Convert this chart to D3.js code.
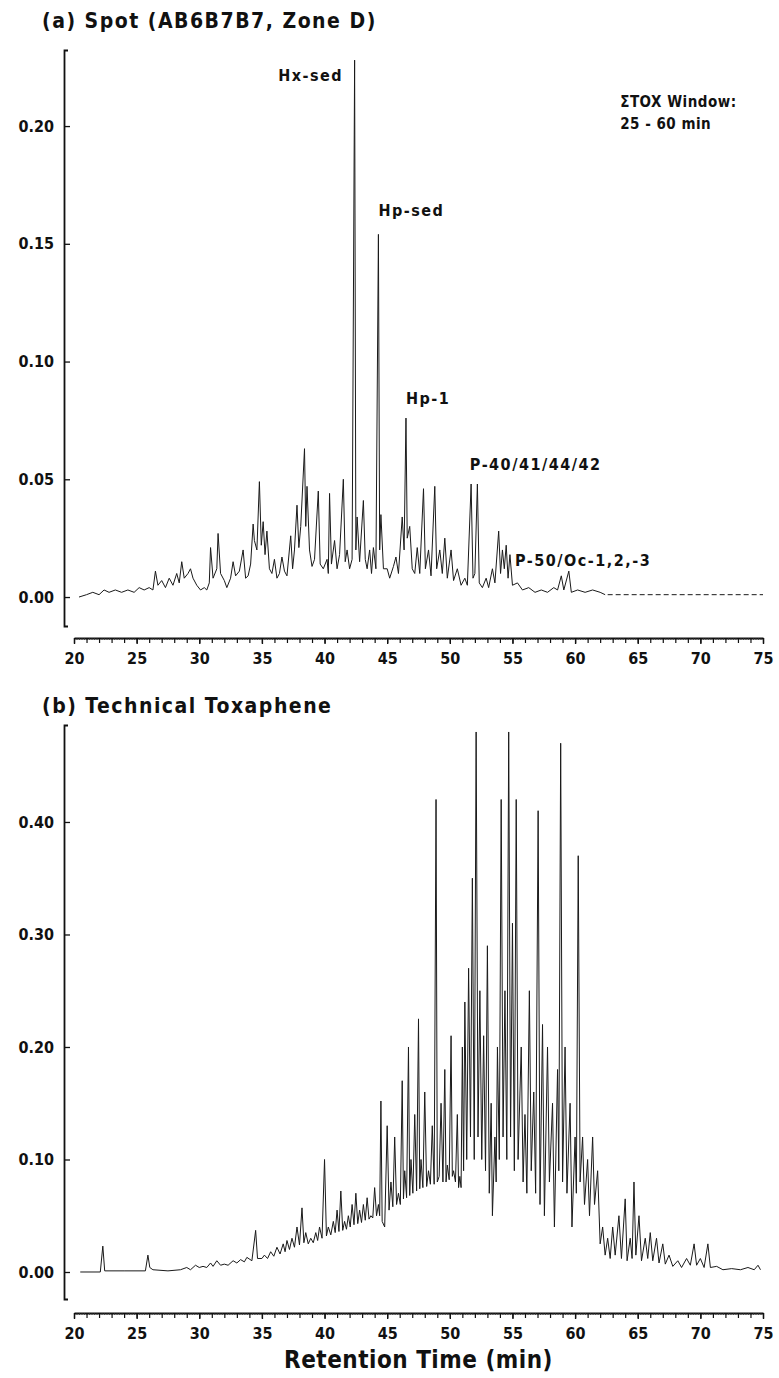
<html>
<head>
<script src="https://cdn.jsdelivr.net/npm/d3@7/dist/d3.min.js"></script>
<style>
body { margin: 0; background: #fff; }
text { font-family: 'DejaVu Sans Condensed', 'DejaVu Sans', sans-serif; font-stretch: condensed; font-weight: bold; fill: #111; }
.tick text { font-size: 16px; }
.trace { fill: none; stroke: #1a1a1a; stroke-width: 1; stroke-linejoin: round; }
</style>
</head>
<body>
<svg id="chart" width="779" height="1378"></svg>
<script>
// panel (a) : spot sample AB6B7B7, zone D  -- [retention time, signal], valleys and peaks
var traceA = [
  [20.4,0.000],[21.0,0.001],[21.5,0.002],[22.0,0.001],[22.4,0.003],[22.8,0.002],[23.3,0.003],[23.8,0.002],[24.3,0.003],[24.8,0.002],
  [25.2,0.004],[25.6,0.003],[26.0,0.004],[26.3,0.003],[26.5,0.011],[26.7,0.005],[27.0,0.007],[27.3,0.004],[27.6,0.008],[27.9,0.005],
  [28.2,0.010],[28.4,0.006],[28.6,0.015],[28.8,0.008],[29.1,0.010],[29.3,0.012],[29.5,0.008],[29.8,0.005],[30.1,0.003],[30.4,0.004],
  [30.6,0.003],[30.8,0.006],[30.9,0.021],[31.1,0.008],[31.4,0.012],[31.5,0.027],[31.7,0.010],[32.0,0.007],[32.2,0.004],[32.5,0.008],
  [32.7,0.015],[32.9,0.009],[33.2,0.011],[33.5,0.020],[33.7,0.008],[33.9,0.009],[34.1,0.014],[34.3,0.031],[34.4,0.024],[34.6,0.020],
  [34.8,0.049],[34.95,0.022],[35.1,0.032],[35.25,0.018],[35.4,0.028],[35.6,0.012],[35.8,0.010],[36.0,0.016],[36.2,0.008],[36.4,0.010],
  [36.6,0.017],[36.8,0.011],[37.0,0.009],[37.3,0.026],[37.45,0.012],[37.6,0.020],[37.8,0.039],[37.95,0.021],[38.1,0.030],[38.4,0.063],
  [38.5,0.030],[38.6,0.047],[38.8,0.020],[39.0,0.013],[39.2,0.016],[39.5,0.045],[39.65,0.014],[39.9,0.012],[40.2,0.016],[40.3,0.010],
  [40.4,0.044],[40.55,0.014],[40.8,0.024],[41.0,0.012],[41.2,0.018],[41.5,0.050],[41.65,0.015],[41.8,0.020],[42.0,0.012],[42.2,0.016],
  [42.4,0.228],[42.5,0.020],[42.6,0.034],[42.8,0.015],[43.1,0.041],[43.25,0.016],[43.4,0.012],[43.6,0.020],[43.75,0.010],[43.9,0.021],
  [44.1,0.012],[44.3,0.154],[44.4,0.020],[44.5,0.035],[44.7,0.012],[45.0,0.012],[45.2,0.008],[45.5,0.013],[45.7,0.017],[45.9,0.010],
  [46.2,0.034],[46.35,0.020],[46.5,0.076],[46.6,0.025],[46.8,0.030],[47.0,0.012],[47.2,0.010],[47.4,0.021],[47.6,0.010],[47.9,0.046],
  [48.05,0.012],[48.3,0.020],[48.5,0.009],[48.8,0.047],[48.95,0.012],[49.2,0.020],[49.4,0.010],[49.6,0.025],[49.8,0.008],[50.1,0.020],
  [50.3,0.007],[50.6,0.012],[50.9,0.005],[51.2,0.008],[51.4,0.005],[51.7,0.048],[51.85,0.008],[52.0,0.010],[52.2,0.048],[52.35,0.006],
  [52.6,0.004],[52.9,0.008],[53.1,0.004],[53.4,0.012],[53.6,0.006],[53.9,0.028],[54.05,0.010],[54.2,0.020],[54.35,0.012],[54.5,0.022],
  [54.65,0.008],[54.8,0.018],[55.0,0.005],[55.4,0.006],[55.8,0.003],[56.3,0.004],[56.8,0.002],[57.3,0.003],[57.8,0.002],[58.3,0.004],
  [58.6,0.003],[58.9,0.009],[59.1,0.003],[59.5,0.011],[59.7,0.002],[60.2,0.003],[60.8,0.002],[61.4,0.003],[62.0,0.002],[62.4,0.001]
];
var tailA = [[62.6,0.001],[75.0,0.001]];

// panel (b) : technical toxaphene
var traceB = [
  [20.5,0.000],[22.1,0.000],[22.3,0.023],[22.45,0.001],[24.0,0.001],[25.7,0.001],[25.9,0.015],[26.05,0.004],[26.3,0.002],[27.5,0.001],
  [28.5,0.002],[29.0,0.004],[29.3,0.002],[29.7,0.006],[30.0,0.004],[30.3,0.005],[30.6,0.004],[30.9,0.008],[31.1,0.005],[31.4,0.010],
  [31.7,0.006],[32.0,0.007],[32.3,0.006],[32.7,0.010],[33.0,0.008],[33.3,0.011],[33.6,0.009],[33.8,0.013],[34.2,0.010],[34.5,0.037],
  [34.65,0.012],[35.0,0.012],[35.2,0.015],[35.45,0.012],[35.7,0.018],[35.95,0.014],[36.2,0.022],[36.45,0.016],[36.7,0.025],[36.85,0.018],
  [37.0,0.028],[37.2,0.020],[37.4,0.030],[37.6,0.022],[37.8,0.040],[38.0,0.024],[38.2,0.057],[38.35,0.026],[38.5,0.035],[38.7,0.025],
  [38.9,0.030],[39.1,0.026],[39.3,0.035],[39.45,0.028],[39.6,0.040],[39.8,0.030],[40.0,0.100],[40.15,0.032],[40.3,0.040],[40.5,0.033],
  [40.7,0.045],[40.85,0.035],[41.0,0.055],[41.15,0.036],[41.3,0.072],[41.45,0.037],[41.6,0.045],[41.75,0.038],[41.9,0.050],[42.05,0.040],
  [42.2,0.060],[42.35,0.042],[42.5,0.070],[42.65,0.043],[42.8,0.055],[42.95,0.044],[43.1,0.060],[43.25,0.046],[43.4,0.066],[43.55,0.047],
  [43.7,0.050],[43.85,0.048],[44.0,0.075],[44.15,0.050],[44.3,0.060],[44.4,0.050],[44.5,0.152],[44.6,0.045],[44.8,0.040],[45.0,0.130],
  [45.15,0.055],[45.3,0.080],[45.45,0.058],[45.6,0.120],[45.75,0.060],[45.9,0.070],[46.05,0.060],[46.2,0.170],[46.3,0.065],[46.4,0.090],
  [46.55,0.066],[46.7,0.200],[46.8,0.068],[46.9,0.100],[47.05,0.070],[47.2,0.140],[47.35,0.072],[47.5,0.225],[47.6,0.074],[47.7,0.100],
  [47.85,0.075],[48.0,0.160],[48.15,0.076],[48.3,0.090],[48.45,0.078],[48.6,0.130],[48.75,0.078],[48.9,0.420],[49.0,0.080],[49.15,0.085],
  [49.3,0.150],[49.45,0.080],[49.6,0.180],[49.7,0.080],[49.8,0.095],[49.95,0.082],[50.1,0.210],[50.2,0.085],[50.3,0.090],[50.45,0.080],
  [50.6,0.140],[50.7,0.075],[50.8,0.085],[50.9,0.075],[51.0,0.200],[51.1,0.090],[51.2,0.240],[51.35,0.100],[51.5,0.270],[51.65,0.120],
  [51.8,0.350],[51.95,0.100],[52.1,0.480],[52.25,0.120],[52.4,0.250],[52.55,0.100],[52.7,0.210],[52.85,0.090],[53.0,0.290],[53.15,0.070],
  [53.3,0.150],[53.4,0.050],[53.6,0.120],[53.7,0.080],[53.8,0.200],[53.95,0.100],[54.1,0.420],[54.25,0.120],[54.4,0.250],[54.55,0.100],
  [54.7,0.480],[54.85,0.120],[55.0,0.310],[55.15,0.090],[55.3,0.420],[55.45,0.100],[55.7,0.200],[55.85,0.080],[56.0,0.140],[56.15,0.070],
  [56.35,0.250],[56.5,0.090],[56.7,0.160],[56.85,0.070],[57.05,0.410],[57.2,0.060],[57.4,0.220],[57.55,0.050],[57.8,0.200],[57.95,0.080],
  [58.2,0.150],[58.35,0.040],[58.6,0.180],[58.7,0.090],[58.85,0.470],[59.0,0.080],[59.2,0.200],[59.35,0.070],[59.6,0.150],[59.75,0.040],
  [60.0,0.120],[60.1,0.070],[60.25,0.370],[60.4,0.080],[60.6,0.120],[60.75,0.060],[61.0,0.100],[61.15,0.050],[61.4,0.120],[61.55,0.060],
  [61.8,0.090],[62.0,0.025],[62.2,0.040],[62.4,0.015],[62.6,0.030],[62.8,0.012],[63.0,0.040],[63.2,0.015],[63.5,0.050],[63.7,0.012],
  [64.0,0.065],[64.15,0.010],[64.4,0.030],[64.55,0.012],[64.7,0.080],[64.85,0.015],[65.1,0.050],[65.3,0.010],[65.6,0.030],[65.8,0.012],
  [66.0,0.035],[66.2,0.010],[66.5,0.030],[66.7,0.008],[67.0,0.025],[67.2,0.007],[67.5,0.015],[67.8,0.005],[68.2,0.010],[68.5,0.004],
  [68.9,0.012],[69.2,0.006],[69.5,0.025],[69.7,0.006],[70.0,0.012],[70.3,0.004],[70.6,0.025],[70.8,0.004],[71.3,0.005],[71.8,0.002],
  [72.5,0.003],[73.2,0.002],[73.8,0.004],[74.3,0.002],[74.6,0.006],[74.8,0.002]
];

var xDomain = [20, 75];
var xMajorTicks = [20, 25, 30, 35, 40, 45, 50, 55, 60, 65, 70, 75];
var yTicksA = [0.00, 0.05, 0.10, 0.15, 0.20];
var yTicksB = [0.00, 0.10, 0.20, 0.30, 0.40];
var yExtentA = [-0.0123, 0.2323];
var yExtentB = [-0.024, 0.4862];

var titles = ["(a) Spot (AB6B7B7, Zone D)", "(b) Technical Toxaphene"];
var xTitle = "Retention Time (min)";

// peak labels of panel (a): [text, retention time, signal, anchor]
var peakLabelsA = [
  ["Hx-sed", 41.8, 0.219, "end"],
  ["Hp-sed", 44.3, 0.162, "start"],
  ["Hp-1", 46.5, 0.082, "start"],
  ["P-40/41/44/42", 51.6, 0.054, "start"],
  ["P-50/Oc-1,2,-3", 55.2, 0.013, "start"]
];
var windowNote = ["\u03A3TOX Window:", "25 - 60 min"];

var svg = d3.select("#chart");

var x = d3.scaleLinear().domain(xDomain).range([74, 763]);
var yA = d3.scaleLinear().domain(yExtentA).range([626, 50]);
var yB = d3.scaleLinear().domain(yExtentB).range([1299, 725]);

function drawPanel(y, yTicks, trace, axisY, title, titleY) {
  var g = svg.append("g");

  g.append("text").attr("x", 42).attr("y", titleY)
    .style("font-size", "21px").style("letter-spacing", "1.5px").text(title);

  // y axis, ticks pointing in
  g.append("g").attr("transform", "translate(64,0)")
    .call(d3.axisLeft(y).tickValues(yTicks).tickSize(-6).tickSizeOuter(-4).tickPadding(10)
      .tickFormat(d3.format(".2f")))
    .call(function(a) {
      a.select(".domain").attr("stroke", "#111").attr("stroke-width", 1.8);
      a.selectAll(".tick line").attr("stroke", "#111").attr("stroke-width", 1.3);
      a.selectAll(".tick text").attr("fill", "#111");
    });

  // x axis, detached below the y axis
  var minor = d3.range(20, 75.001, 0.2);
  var mins = d3.range(20, 76, 1);
  g.append("g").attr("transform", "translate(0," + axisY + ")")
    .call(d3.axisBottom(x).tickValues(minor).tickSize(2).tickSizeOuter(0).tickFormat(""))
    .call(function(a) {
      a.select(".domain").attr("stroke", "#111").attr("stroke-width", 2);
      a.selectAll(".tick line").attr("stroke", "#333").attr("stroke-width", 0.8);
    });
  g.append("g").attr("transform", "translate(0," + axisY + ")")
    .call(d3.axisBottom(x).tickValues(mins).tickSize(5).tickSizeOuter(0).tickFormat(""))
    .call(function(a) {
      a.select(".domain").remove();
      a.selectAll(".tick line").attr("stroke", "#111").attr("stroke-width", 1.2);
    });
  g.append("g").attr("transform", "translate(0," + axisY + ")")
    .call(d3.axisBottom(x).tickValues(xMajorTicks).tickSize(6).tickSizeOuter(0).tickPadding(9)
      .tickFormat(d3.format("d")))
    .call(function(a) {
      a.select(".domain").remove();
      a.selectAll(".tick line").attr("stroke", "#111").attr("stroke-width", 1.4);
      a.selectAll(".tick text").attr("fill", "#111");
    });

  var line = d3.line().x(function(d) { return x(d[0]); }).y(function(d) { return y(d[1]); });
  g.append("path").datum(trace).attr("class", "trace").attr("d", line);
  return line;
}

var lineA = drawPanel(yA, yTicksA, traceA, 638, titles[0], 28);
svg.append("path").datum(tailA).attr("class", "trace")
  .attr("stroke-dasharray", "5,3").attr("d", lineA);

drawPanel(yB, yTicksB, traceB, 1313, titles[1], 713);

svg.selectAll(".peaklabel").data(peakLabelsA).enter().append("text")
  .attr("class", "peaklabel")
  .attr("x", function(d) { return x(d[1]) + (d[3] === "end" ? -4 : 0); })
  .attr("y", function(d) { return yA(d[2]); })
  .attr("text-anchor", function(d) { return d[3]; })
  .style("font-size", "16px").style("letter-spacing", "1.5px")
  .text(function(d) { return d[0]; });

svg.append("g").selectAll("text").data(windowNote).enter().append("text")
  .attr("x", x(63.6)).attr("y", function(d, i) { return yA(0.208) + i * 22; })
  .style("font-size", "15px").style("letter-spacing", "0.5px")
  .text(function(d) { return d; });

svg.append("text").attr("x", x(47.5)).attr("y", 1368)
  .attr("text-anchor", "middle").style("font-size", "24px").style("letter-spacing", "0.5px").text(xTitle);
</script>
</body>
</html>
